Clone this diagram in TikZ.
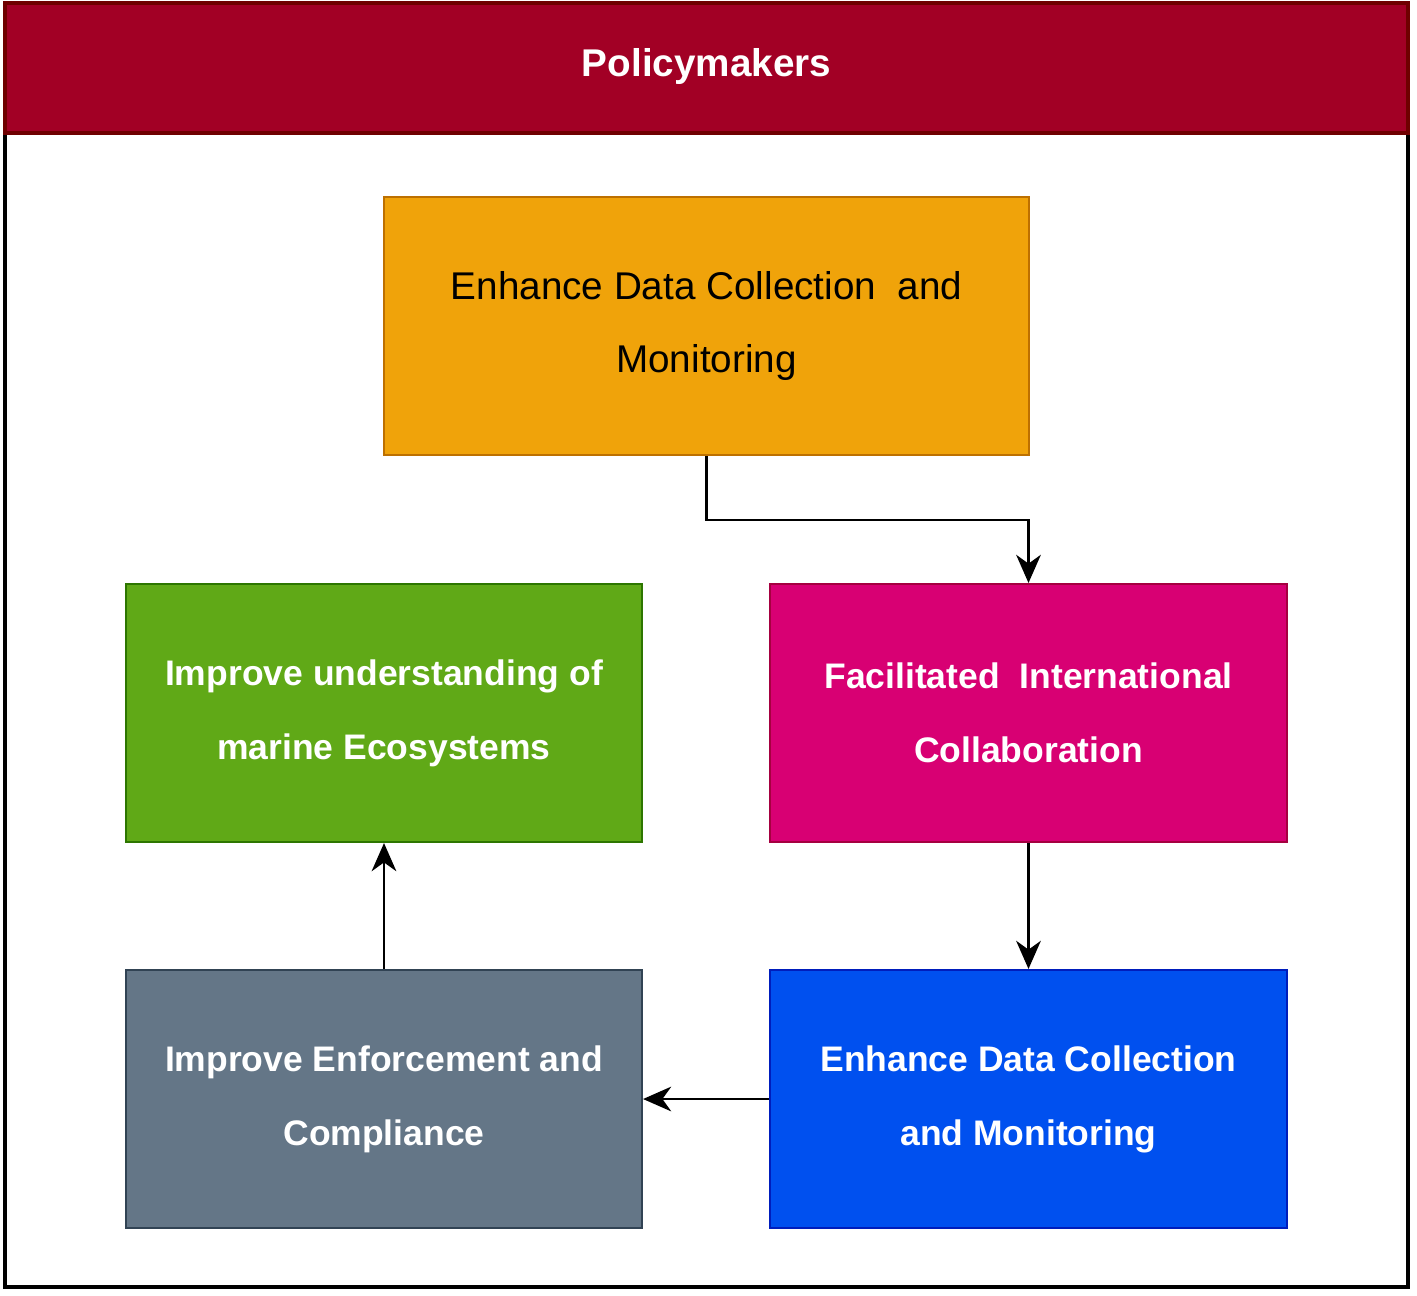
\documentclass[tikz,border=0pt]{standalone}
\usepackage{fontspec}
\setmainfont{Liberation Sans}
\usetikzlibrary{arrows.meta}

\definecolor{headred}{HTML}{A20025}
\definecolor{headline}{HTML}{6F0000}
\definecolor{orangefill}{HTML}{F0A30A}
\definecolor{orangeline}{HTML}{BD7000}
\definecolor{greenfill}{HTML}{60A917}
\definecolor{greenline}{HTML}{2D7600}
\definecolor{pinkfill}{HTML}{D80073}
\definecolor{pinkline}{HTML}{A50040}
\definecolor{grayfill}{HTML}{647687}
\definecolor{grayline}{HTML}{314354}
\definecolor{bluefill}{HTML}{0050EF}
\definecolor{blueline}{HTML}{001DBC}

\begin{document}
\begin{tikzpicture}
  [box/.style={draw,rectangle,line width=0.6pt,minimum height=2.58cm,
               align=center,inner sep=0pt,font=\fontsize{11}{21}\selectfont},
   whitebox/.style={box,text=white,font=\fontsize{10.1}{21}\selectfont\bfseries},
   flow/.style={draw,line width=0.8pt,-{Stealth[length=8pt,width=7pt,inset=2.5pt]}}]

  \useasboundingbox (0,0) rectangle (14.17,-12.95);

  % frame and title band
  \draw[line width=1pt] (0.05,-1.33) rectangle (14.08,-12.87);
  \draw[fill=headred,draw=headline,line width=1pt] (0.05,-0.03) rectangle (14.08,-1.33);
  \node[text=white,font=\fontsize{11}{13}\selectfont\bfseries] (title) at (7.065,-0.66) {Policymakers};

  \node[box,fill=orangefill,draw=orangeline,minimum width=6.45cm]
        (data)    at (7.065,-3.26)  {Enhance Data Collection\ \ and\\Monitoring};
  \node[whitebox,fill=greenfill,draw=greenline,minimum width=5.16cm]
        (marine)  at (3.84,-7.13)   {Improve understanding of\\marine Ecosystems};
  \node[whitebox,fill=pinkfill,draw=pinkline,minimum width=5.17cm]
        (collab)  at (10.285,-7.13) {Facilitated\ \ International\\Collaboration};
  \node[whitebox,fill=grayfill,draw=grayline,minimum width=5.16cm]
        (enforce) at (3.84,-10.99)  {Improve Enforcement and\\Compliance};
  \node[whitebox,fill=bluefill,draw=blueline,minimum width=5.17cm]
        (monitor) at (10.285,-10.99) {Enhance Data Collection\\and Monitoring};

  \path[flow] (data.south) -- ++(0,-0.64) -| (collab.north);
  \path[flow] (collab)  -- (monitor);
  \path[flow] (monitor) -- (enforce);
  \path[flow] (enforce) -- (marine);
\end{tikzpicture}
\end{document}
